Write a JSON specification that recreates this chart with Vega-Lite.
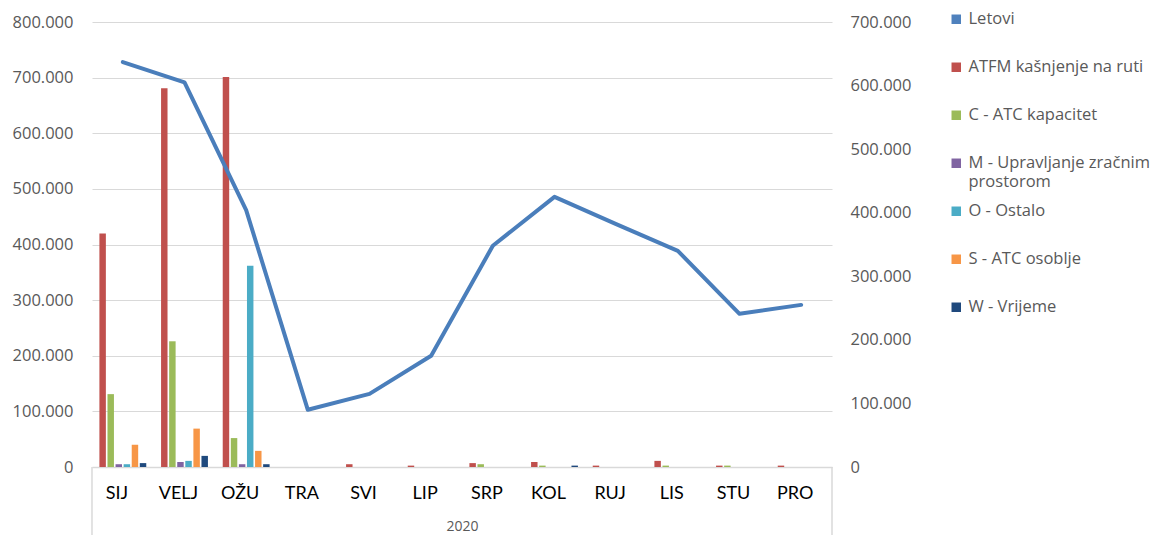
{
  "$schema": "https://vega.github.io/schema/vega-lite/v6.json",
  "width": 740,
  "height": 445,
  "autosize": {"type": "none"},
  "padding": {"left": 92, "top": 22, "right": 321, "bottom": 68},
  "config": {"view": {"stroke": null}, "font": "Open Sans"},
  "datasets": {
    "bars": [
      {"month": "SIJ", "series": "ATFM kašnjenje na ruti", "value": 420000},
      {"month": "SIJ", "series": "C - ATC kapacitet", "value": 131000},
      {"month": "SIJ", "series": "M - Upravljanje zračnim prostorom", "value": 5000},
      {"month": "SIJ", "series": "O - Ostalo", "value": 5000},
      {"month": "SIJ", "series": "S - ATC osoblje", "value": 40000},
      {"month": "SIJ", "series": "W - Vrijeme", "value": 7000},
      {"month": "VELJ", "series": "ATFM kašnjenje na ruti", "value": 681000},
      {"month": "VELJ", "series": "C - ATC kapacitet", "value": 226000},
      {"month": "VELJ", "series": "M - Upravljanje zračnim prostorom", "value": 9000},
      {"month": "VELJ", "series": "O - Ostalo", "value": 11000},
      {"month": "VELJ", "series": "S - ATC osoblje", "value": 69000},
      {"month": "VELJ", "series": "W - Vrijeme", "value": 20000},
      {"month": "OŽU", "series": "ATFM kašnjenje na ruti", "value": 701000},
      {"month": "OŽU", "series": "C - ATC kapacitet", "value": 52000},
      {"month": "OŽU", "series": "M - Upravljanje zračnim prostorom", "value": 5000},
      {"month": "OŽU", "series": "O - Ostalo", "value": 362000},
      {"month": "OŽU", "series": "S - ATC osoblje", "value": 29000},
      {"month": "OŽU", "series": "W - Vrijeme", "value": 5000},
      {"month": "TRA", "series": "ATFM kašnjenje na ruti", "value": 0},
      {"month": "SVI", "series": "ATFM kašnjenje na ruti", "value": 5000},
      {"month": "LIP", "series": "ATFM kašnjenje na ruti", "value": 2500},
      {"month": "SRP", "series": "ATFM kašnjenje na ruti", "value": 7000},
      {"month": "SRP", "series": "C - ATC kapacitet", "value": 5000},
      {"month": "KOL", "series": "ATFM kašnjenje na ruti", "value": 9000},
      {"month": "KOL", "series": "C - ATC kapacitet", "value": 2500},
      {"month": "KOL", "series": "W - Vrijeme", "value": 2500},
      {"month": "RUJ", "series": "ATFM kašnjenje na ruti", "value": 2500},
      {"month": "LIS", "series": "ATFM kašnjenje na ruti", "value": 11000},
      {"month": "LIS", "series": "C - ATC kapacitet", "value": 2500},
      {"month": "STU", "series": "ATFM kašnjenje na ruti", "value": 2500},
      {"month": "STU", "series": "C - ATC kapacitet", "value": 2500},
      {"month": "PRO", "series": "ATFM kašnjenje na ruti", "value": 2500}
    ],
    "flights": [
      {"month": "SIJ", "letovi": 637000},
      {"month": "VELJ", "letovi": 605000},
      {"month": "OŽU", "letovi": 404000},
      {"month": "TRA", "letovi": 90000},
      {"month": "SVI", "letovi": 115000},
      {"month": "LIP", "letovi": 175000},
      {"month": "SRP", "letovi": 348000},
      {"month": "KOL", "letovi": 425000},
      {"month": "RUJ", "letovi": 382000},
      {"month": "LIS", "letovi": 340000},
      {"month": "STU", "letovi": 241000},
      {"month": "PRO", "letovi": 255000}
    ]
  },
  "layer": [
    {
      "data": {"name": "bars"},
      "mark": {"type": "bar"},
      "encoding": {
        "x": {
          "field": "month", "type": "nominal",
          "sort": ["SIJ","VELJ","OŽU","TRA","SVI","LIP","SRP","KOL","RUJ","LIS","STU","PRO"],
          "scale": {"domain": ["SIJ","VELJ","OŽU","TRA","SVI","LIP","SRP","KOL","RUJ","LIS","STU","PRO"], "paddingInner": 0.24, "paddingOuter": 0.12},
          "axis": {
            "title": "2020", "titleColor": "#595959", "titleFontSize": 14, "titleFontWeight": "normal", "titlePadding": 17, "titleFont": "Open Sans",
            "labelAngle": 0, "labelFontSize": 18, "labelColor": "#000000", "labelFont": "Lato", "labelPadding": 17, "labelOffset": -6,
            "ticks": false, "domainColor": "#D9D9D9", "domainWidth": 1.5, "grid": false
          }
        },
        "xOffset": {
          "field": "series", "type": "nominal",
          "scale": {"domain": ["ATFM kašnjenje na ruti","C - ATC kapacitet","M - Upravljanje zračnim prostorom","O - Ostalo","S - ATC osoblje","W - Vrijeme"], "paddingInner": 0.2}
        },
        "y": {
          "field": "value", "type": "quantitative",
          "scale": {"domain": [0, 800000], "nice": false},
          "axis": {
            "title": null, "orient": "left", "values": [0,100000,200000,300000,400000,500000,600000,700000,800000],
            "labelExpr": "replace(format(datum.value, ','), regexp(',', 'g'), '.')",
            "labelFontSize": 16.5, "labelColor": "#595959", "labelPadding": 19, "ticks": false, "domain": false,
            "grid": true, "gridColor": "#D9D9D9", "gridWidth": 1
          }
        },
        "color": {
          "field": "series", "type": "nominal",
          "scale": {
            "domain": ["Letovi","ATFM kašnjenje na ruti","C - ATC kapacitet","M - Upravljanje zračnim prostorom","O - Ostalo","S - ATC osoblje","W - Vrijeme"],
            "range": ["#4F81BD","#C0504D","#9BBB59","#8064A2","#4BACC6","#F79646","#1F497D"]
          },
          "legend": {
            "title": null, "orient": "none", "legendX": 856, "legendY": -11,
            "symbolType": "square", "symbolSize": 90, "symbolStrokeWidth": 0,
            "labelFontSize": 16.5, "labelColor": "#595959", "labelFont": "Open Sans", "labelLimit": 300,
            "gridAlign": "all", "rowPadding": 12, "labelOffset": 4,
            "labelExpr": "datum.label == 'M - Upravljanje zračnim prostorom' ? ['M - Upravljanje zračnim', 'prostorom'] : datum.label"
          }
        }
      }
    },
    {
      "data": {"name": "flights"},
      "mark": {"type": "line", "color": "#4A7EBB", "strokeWidth": 4, "strokeJoin": "round", "strokeCap": "round"},
      "encoding": {
        "x": {"field": "month", "type": "nominal", "sort": ["SIJ","VELJ","OŽU","TRA","SVI","LIP","SRP","KOL","RUJ","LIS","STU","PRO"]},
        "y": {
          "field": "letovi", "type": "quantitative",
          "scale": {"domain": [0, 700000], "nice": false},
          "axis": {
            "title": null, "orient": "right", "values": [0,100000,200000,300000,400000,500000,600000,700000],
            "labelExpr": "replace(format(datum.value, ','), regexp(',', 'g'), '.')",
            "labelFontSize": 16.5, "labelColor": "#595959", "labelPadding": 18, "ticks": false, "domain": false, "grid": false
          }
        }
      }
    },
    {
      "data": {"values": [{}]},
      "mark": {"type": "rule", "color": "#D9D9D9", "strokeWidth": 1.5},
      "encoding": {
        "x": {"datum": "SIJ", "type": "nominal", "bandPosition": -0.158},
        "y": {"datum": 0, "type": "quantitative", "scale": {"domain": [0, 800000], "nice": false}, "axis": null},
        "y2": {"datum": -125000}
      }
    },
    {
      "data": {"values": [{}]},
      "mark": {"type": "rule", "color": "#D9D9D9", "strokeWidth": 1.5},
      "encoding": {
        "x": {"datum": "PRO", "type": "nominal", "bandPosition": 1.158},
        "y": {"datum": 0, "type": "quantitative", "scale": {"domain": [0, 800000], "nice": false}, "axis": null},
        "y2": {"datum": -125000}
      }
    }
  ],
  "resolve": {"scale": {"y": "independent", "color": "independent"}}
}
